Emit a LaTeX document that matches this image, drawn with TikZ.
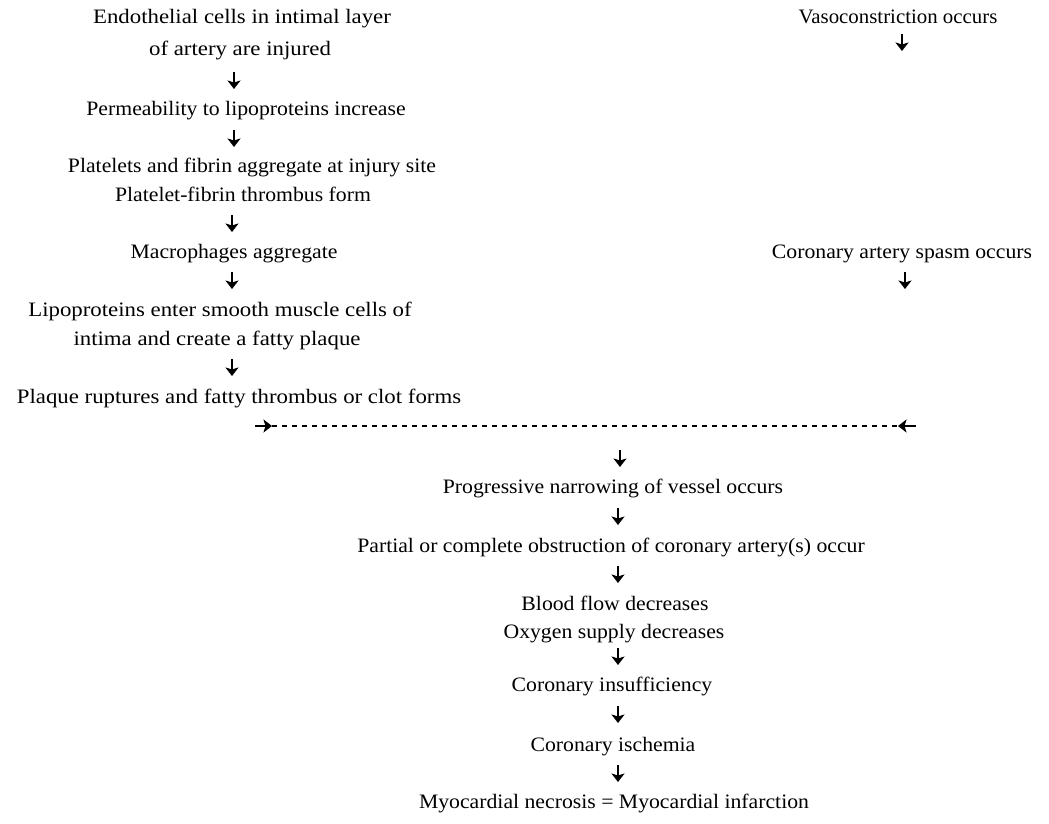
\documentclass[tikz,border=0pt]{standalone}
\usepackage{fontspec}
\setmainfont{Liberation Serif}[FakeStretch=1.06]
\usetikzlibrary{arrows.meta}
\begin{document}
\begin{tikzpicture}[x=1pt,y=-1pt,
  txt/.style={inner sep=0pt,anchor=base,font=\fontsize{20.5}{24}\selectfont},
  wide/.style={txt,xscale=1.05,transform shape},
  flow/.style={line width=2.8pt,-{Stealth[length=8.5pt,width=13pt,inset=2pt]}},
  dashline/.style={line width=1.2pt,dash pattern=on 5pt off 5pt}]
\useasboundingbox[fill=white] (0,0) rectangle (1049,824);

% left column: plaque formation
\node[wide] (e1) at (242,24) {Endothelial cells in intimal layer};
\node[wide] (e2) at (240,56) {of artery are injured};
\node[txt] (p1) at (246,116) {Permeability to lipoproteins increase};
\node[txt] (t1) at (252,172) {Platelets and fibrin aggregate at injury site};
\node[txt] (t2) at (243,201) {Platelet-fibrin thrombus form};
\node[txt] (m1) at (234,258) {Macrophages aggregate};
\node[wide] (l1) at (220,316) {Lipoproteins enter smooth muscle cells of};
\node[wide] (l2) at (217,345) {intima and create a fatty plaque};
\node[wide] (r1) at (239,403) {Plaque ruptures and fatty thrombus or clot forms};

% right column: spasm
\node[txt,xscale=0.96,transform shape] (v1) at (898,24) {Vasoconstriction occurs};
\node[txt] (c1) at (902,258) {Coronary artery spasm occurs};

% centre column: consequences
\node[txt] (n1) at (613,493) {Progressive narrowing of vessel occurs};
\node[txt] (o1) at (611,552) {Partial or complete obstruction of coronary artery(s) occur};
\node[txt] (b1) at (615,610) {Blood flow decreases};
\node[txt] (b2) at (614,638) {Oxygen supply decreases};
\node[txt] (i1) at (612,691) {Coronary insufficiency};
\node[txt] (i2) at (613,751) {Coronary ischemia};
\node[txt] (f1) at (614,808) {Myocardial necrosis = Myocardial infarction};

% arrow end points
\coordinate (a1s) at (234,72);  \coordinate (a1e) at (234,89);
\coordinate (a2s) at (234,130); \coordinate (a2e) at (234,147);
\coordinate (a3s) at (232,215); \coordinate (a3e) at (232,232);
\coordinate (a4s) at (232,272); \coordinate (a4e) at (232,289);
\coordinate (a5s) at (232,359); \coordinate (a5e) at (232,376);
\coordinate (a6s) at (902,34);  \coordinate (a6e) at (902,51);
\coordinate (a7s) at (905,272); \coordinate (a7e) at (905,289);
\coordinate (jl) at (255,426);  \coordinate (jls) at (272,426);
\coordinate (jr) at (916,426);  \coordinate (jrs) at (898,426);
\coordinate (a8s) at (620,450); \coordinate (a8e) at (620,467);
\coordinate (a9s) at (618,508); \coordinate (a9e) at (618,525);
\coordinate (a10s) at (618,566); \coordinate (a10e) at (618,583);
\coordinate (a11s) at (618,648); \coordinate (a11e) at (618,665);
\coordinate (a12s) at (618,706); \coordinate (a12e) at (618,723);
\coordinate (a13s) at (618,765); \coordinate (a13e) at (618,782);

\foreach \s/\e in {a1s/a1e,a2s/a2e,a3s/a3e,a4s/a4e,a5s/a5e,a6s/a6e,a7s/a7e,
                   a8s/a8e,a9s/a9e,a10s/a10e,a11s/a11e,a12s/a12e,a13s/a13e}
  \draw[flow] (\s) -- (\e);

% junction of the two paths
\draw[flow] (jl) -- (jls);
\draw[flow] (jr) -- (jrs);
\draw[dashline] (jls) -- (jrs);
\end{tikzpicture}
\end{document}
